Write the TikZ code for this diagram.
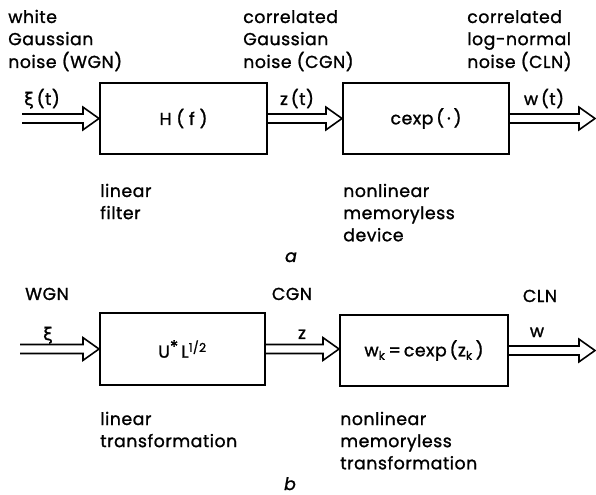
\documentclass[tikz,border=0pt]{standalone}
\usepackage{fontspec}
\setmainfont{Poppins}[FakeBold=1.2,LetterSpace=3]
\newfontfamily\grk{DejaVu Sans}[FakeBold=1.5]
\usetikzlibrary{calc}
\newcommand\fs{\fontsize{13pt}{16.6pt}\selectfont}
\newcommand\lines[1]{\begin{tabular}[t]{@{}l@{}}#1\end{tabular}}
\begin{document}
\begin{tikzpicture}[x=0.75pt,y=-0.75pt,
  blk/.style={draw, line width=1.5pt, inner sep=0pt, font=\fs},
  lbl/.style={inner sep=0pt, anchor=base west, font=\fs},
  sig/.style={inner sep=0pt, anchor=base, font=\fs},
  dblarr/.style={draw, line width=1.2pt, line join=miter,
    to path={let \p1=(\tikztostart), \p2=(\tikztotarget) in
      (\x1,\y1+3.4pt) -- (\x2-12pt,\y1+3.4pt) -- (\x2-12pt,\y1+8.5pt)
      -- (\x2,\y1) -- (\x2-12pt,\y1-8.5pt) -- (\x2-12pt,\y1-3.4pt)
      -- (\x1,\y1-3.4pt)}}]
\useasboundingbox (0,0) rectangle (596,495);
% ---- panel a ----
\node[blk, minimum width=125.25pt, minimum height=53.25pt] (b1) at (183.5,118.5) {H\;(\;f\;)};
\node[blk, minimum width=124.5pt, minimum height=53.25pt] (b2) at (426,118.5) {cexp\,(\,·\,)};
\coordinate (in1) at (22,118.5);
\coordinate (out1) at (595,118.5);
\path (in1) edge[dblarr] (b1.west);
\path (b1.east) edge[dblarr] (b2.west);
\path (b2.east) edge[dblarr] (out1);
\node[lbl] (t1) at (8,23) {\lines{white\\Gaussian\\noise (WGN)}};
\node[lbl] (t2) at (243,23) {\lines{correlated\\Gaussian\\noise (CGN)}};
\node[lbl] (t3) at (467,23) {\lines{correlated\\log-normal\\noise (CLN)}};
\node[sig] (s1) at (42,105) {{\grk ξ}\,(t)};
\node[sig] (s2) at (297,105) {z\,(t)};
\node[sig] (s3) at (544,105) {w\,(t)};
\node[lbl] (d1) at (100,197) {\lines{linear\\filter}};
\node[lbl] (d2) at (343,197) {\lines{nonlinear\\memoryless\\device}};
\node[sig] (la) at (291,262) {\itshape a};
% ---- panel b ----
\node[blk, minimum width=123.75pt, minimum height=54pt] (b3) at (182.5,349) {U\raisebox{0.5ex}{*}\,L\textsuperscript{1/2}};
\node[blk, minimum width=126pt, minimum height=53.25pt] (b4) at (424,350.5) {w\textsubscript{k}\,=\,cexp\,(z\textsubscript{k}\,)};
\coordinate (in2) at (20,349);
\coordinate (out2) at (595,349);
\path (in2) edge[dblarr] (b3.west);
\path (b3.east) edge[dblarr] (b4.west);
\path (b4.east) edge[dblarr] (out2);
\node[sig] (w1) at (47,300) {WGN};
\node[sig] (w2) at (292,300) {CGN};
\node[sig] (w3) at (540,302) {CLN};
\node[sig] (x1) at (48,340) {\grk ξ};
\node[sig] (x2) at (302,339) {z};
\node[sig] (x3) at (537,337) {w};
\node[lbl] (e1) at (100,425) {\lines{linear\\transformation}};
\node[lbl] (e2) at (340,425) {\lines{nonlinear\\memoryless\\transformation}};
\node[sig] (lb) at (290,490) {\itshape b};
\end{tikzpicture}
\end{document}
